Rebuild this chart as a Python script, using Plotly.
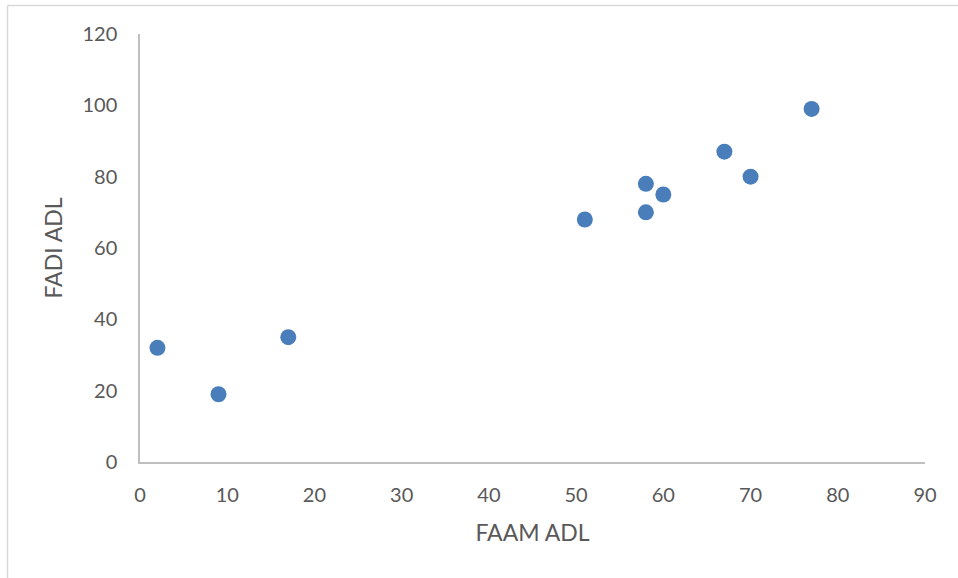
import plotly.graph_objects as go

faam_adl = [2, 9, 17, 51, 58, 58, 60, 67, 70, 77]
fadi_adl = [32, 19, 35, 68, 78, 70, 75, 87, 80, 99]

x_title = "FAAM ADL"
y_title = "FADI ADL"

W, H = 958, 578
L, R, T, B = 140, 33, 34, 116
pw, ph = W - L - R, H - T - B

def px_x(p):
    return (p - L) / pw

def px_y(p):
    return (H - B - p) / ph

fig = go.Figure()
fig.add_trace(go.Scatter(
    x=faam_adl, y=fadi_adl, mode="markers",
    marker=dict(size=16, color="#4A7EBB", line=dict(width=0)),
    showlegend=False,
))

font_fam = "Lato, Liberation Sans, Arial, sans-serif"
fig.update_layout(
    width=W, height=H,
    margin=dict(l=L, r=R, t=T, b=B),
    paper_bgcolor="white", plot_bgcolor="white",
    font=dict(family=font_fam, color="#595959", size=20),
    xaxis=dict(
        range=[0, 90], dtick=10, tick0=0, showgrid=False, zeroline=False,
        showline=True, linecolor="#BFBFBF", linewidth=1.5,
        ticks="", ticklabelstandoff=14,
        title=dict(text=x_title, font=dict(size=23, color="#595959"), standoff=20),
    ),
    yaxis=dict(
        range=[0, 120], dtick=20, tick0=0, showgrid=False, zeroline=False,
        showline=True, linecolor="#BFBFBF", linewidth=1.5,
        ticks="", ticklabelstandoff=17,
        title=dict(text=y_title, font=dict(size=23, color="#595959"), standoff=13),
    ),
    shapes=[
        dict(type="line", xref="paper", yref="paper",
             x0=px_x(7.5), x1=px_x(958), y0=px_y(5.5), y1=px_y(5.5),
             line=dict(color="#D9D9D9", width=1.5)),
        dict(type="line", xref="paper", yref="paper",
             x0=px_x(7.5), x1=px_x(7.5), y0=px_y(5.5), y1=px_y(578),
             line=dict(color="#D9D9D9", width=1.5)),
    ],
)

fig.write_html("out.html")
